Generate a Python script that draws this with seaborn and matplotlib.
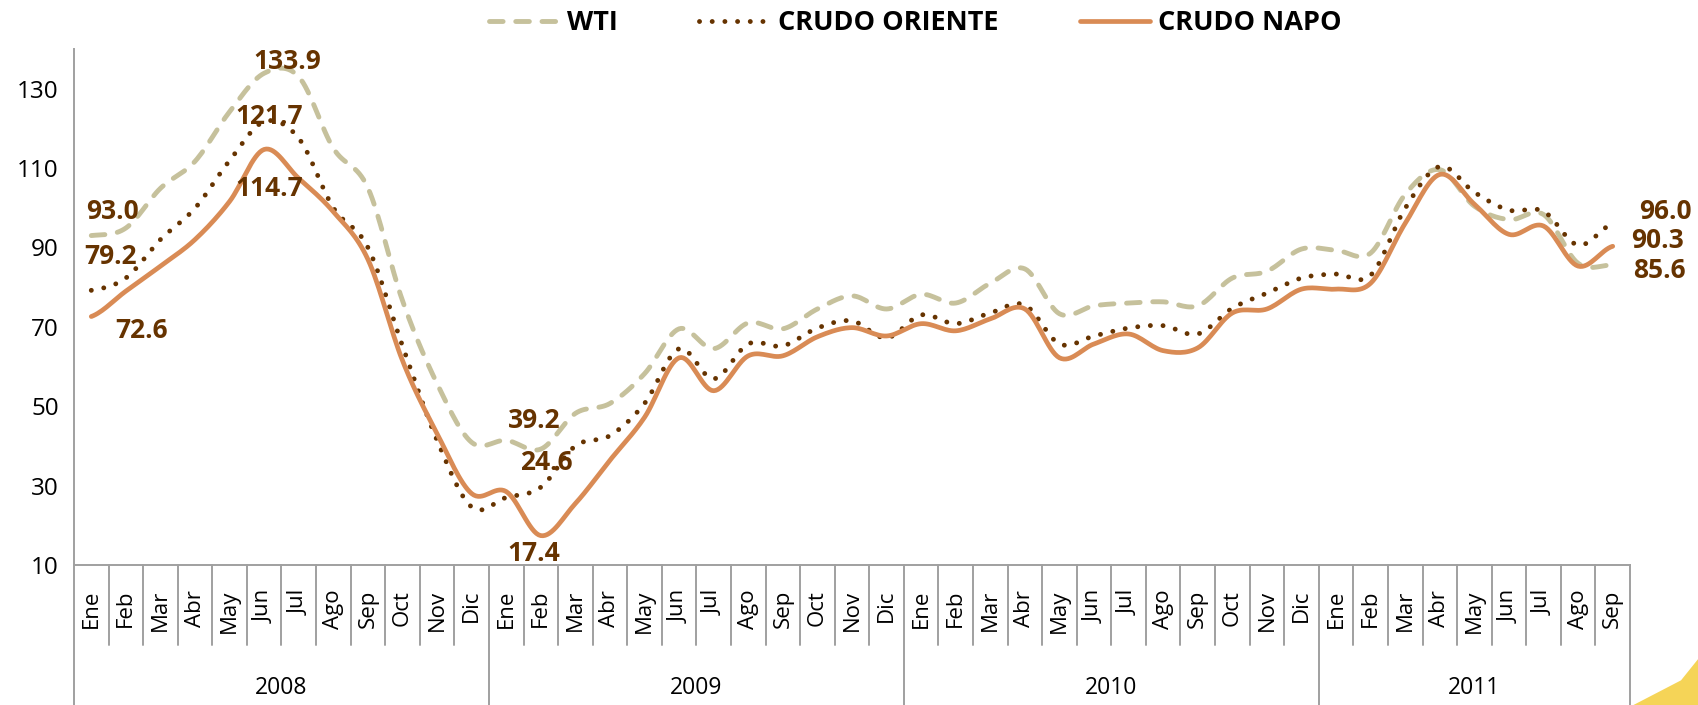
import numpy as np
import pandas as pd
import matplotlib
matplotlib.use("Agg")
import matplotlib.pyplot as plt
import matplotlib.transforms as mtransforms
from matplotlib.lines import Line2D
from matplotlib.patches import Polygon
import seaborn as sns

# data (USD per barrel, monthly)
years = ["2008", "2009", "2010", "2011"]
months = ["Ene", "Feb", "Mar", "Abr", "May", "Jun", "Jul", "Ago", "Sep", "Oct", "Nov", "Dic"]
month_labels = months * 3 + months[:9]

wti = [93.0, 94.9, 104.9, 111.7, 124.2, 133.9, 133.0, 115.0, 105.0, 76.6, 55.7, 40.9,
       41.4, 39.2, 48.2, 50.7, 58.2, 69.5, 64.5, 71.0, 69.5, 74.5, 77.8, 74.5,
       78.2, 76.0, 81.0, 84.6, 73.3, 75.3, 76.0, 76.3, 75.3, 82.3, 84.0, 89.6,
       89.3, 88.6, 103.4, 109.6, 100.4, 97.0, 98.3, 86.0, 85.6]
oriente = [79.2, 82.3, 92.0, 99.9, 111.9, 121.7, 117.5, 100.0, 90.0, 65.2, 41.4, 24.6,
           27.0, 29.6, 40.0, 42.6, 50.7, 64.5, 56.9, 65.7, 65.2, 69.7, 71.5, 67.2,
           73.0, 70.8, 73.5, 75.5, 65.7, 67.7, 69.7, 70.3, 68.2, 74.7, 78.5, 82.3,
           83.3, 83.0, 99.9, 110.4, 103.9, 99.4, 99.1, 90.6, 96.0]
napo = [72.6, 79.0, 85.3, 92.0, 101.6, 114.7, 107.4, 99.0, 87.0, 61.5, 43.1, 28.0,
        28.5, 17.4, 25.5, 36.4, 47.2, 62.2, 53.9, 62.7, 62.7, 67.5, 69.8, 67.7,
        70.8, 69.0, 72.0, 74.5, 62.2, 65.7, 68.2, 64.0, 64.7, 73.5, 74.5, 79.5,
        79.5, 81.0, 96.1, 108.4, 100.9, 93.3, 95.4, 85.3, 90.3]

series_names = ["WTI", "CRUDO ORIENTE", "CRUDO NAPO"]
series_values = [wti, oriente, napo]


def smooth(values, n=16):
    # Catmull-Rom curve through the points, like Excel's "smoothed line"
    y = np.asarray(values, float)
    p = np.concatenate([[y[0]], y, [y[-1]]])
    t = np.linspace(0, 1, n, endpoint=False)
    xs, ys = [], []
    for i in range(len(y) - 1):
        p0, p1, p2, p3 = p[i], p[i + 1], p[i + 2], p[i + 3]
        seg = 0.5 * (2 * p1 + (-p0 + p2) * t + (2 * p0 - 5 * p1 + 4 * p2 - p3) * t ** 2
                     + (-p0 + 3 * p1 - 3 * p2 + p3) * t ** 3)
        xs.extend(i + t)
        ys.extend(seg)
    xs.append(len(y) - 1)
    ys.append(y[-1])
    return np.array(xs), np.array(ys)


sns.set_style("white")
plt.rcParams["font.family"] = ["Open Sans", "DejaVu Sans"]
plt.rcParams["text.color"] = "black"
plt.rcParams["ytick.labelcolor"] = "black"

fig = plt.figure(figsize=(16.98, 7.05), dpi=100)
ax = fig.add_axes([74 / 1698, 1 - 565 / 705, (1630 - 74) / 1698, (565 - 49) / 705])

styles = {
    "WTI": dict(color="#C6C19C", linewidth=3.5, linestyle=(0, (2.8, 2.6)),
                dash_capstyle="round"),
    "CRUDO ORIENTE": dict(color="#663300", linewidth=3.5, linestyle=(0, (0.01, 2.6)),
                          dash_capstyle="round"),
    "CRUDO NAPO": dict(color="#D98B55", linewidth=3.4, linestyle="-",
                       solid_capstyle="round"),
}

handles = []
for name, vals in zip(series_names, series_values):
    xs, ys = smooth(vals)
    df = pd.DataFrame({"x": xs, "y": ys})
    sns.lineplot(data=df, x="x", y="y", ax=ax, sort=False, estimator=None, **styles[name])
    handles.append(Line2D([], [], **styles[name]))

ax.set_xlim(-0.5, len(month_labels) - 0.5)
ax.set_ylim(10, 140)
ax.set_yticks(range(10, 131, 20))
ax.tick_params(axis="y", direction="out", length=7, width=1.2, color="#A0A0A0",
               labelsize=17.5, labelcolor="black", pad=4)
ax.set_xticks([])
ax.set_xlabel("")
ax.set_ylabel("")
for s in ["top", "right"]:
    ax.spines[s].set_visible(False)
for s in ["left", "bottom"]:
    ax.spines[s].set_color("#A0A0A0")
    ax.spines[s].set_linewidth(1.4)

# category axis: months and years
trans = mtransforms.blended_transform_factory(ax.transData, ax.transAxes)
for i, m in enumerate(month_labels):
    ax.text(i, -0.048, m, transform=trans, rotation=90, ha="center", va="top",
            fontsize=16, color="black")
for k in range(len(month_labels) + 1):
    is_year = k % 12 == 0 or k == len(month_labels)
    ax.add_line(Line2D([k - 0.5, k - 0.5], [0, -0.28 if is_year else -0.155],
                       transform=trans, clip_on=False, color="#A0A0A0", linewidth=1.4))
for j, yr in enumerate(years):
    start = j * 12
    end = min(start + 12, len(month_labels))
    ax.text((start + end - 1) / 2, -0.238, yr, transform=trans, ha="center",
            va="center", fontsize=16.5, color="black")

# data labels (series index, month index, offset in px)
label_color = "#663300"
labels = [
    (0, 0, 21, -24), (1, 0, 19, -34), (2, 0, 50, 14),
    (0, 5, 23, -12), (1, 5, 5, -5), (2, 5, 5, 39),
    (0, 13, -7, -29), (1, 11, 75, -45), (2, 13, -7, 18),
    (1, 44, 53, -12), (2, 44, 45, -6), (0, 44, 47, 6),
]
for s, i, dx, dy in labels:
    v = series_values[s][i]
    ax.annotate(f"{v:.1f}", xy=(i, v), xytext=(dx * 0.72, -dy * 0.72),
                textcoords="offset points", ha="center", va="center",
                fontsize=19, fontweight="bold", color=label_color,
                annotation_clip=False)

leg = ax.legend(handles, series_names, loc="center", bbox_to_anchor=(0.539, 0.967),
                bbox_transform=fig.transFigure, ncol=3, frameon=False,
                handlelength=2.6, handletextpad=0.3, columnspacing=3.0,
                prop={"size": 19.5, "weight": "bold"})
for txt in leg.get_texts():
    txt.set_color("black")

# yellow corner decoration
fig.patches.append(Polygon([(0.962, 0.0), (1.0, 0.0), (1.0, 0.065), (0.99, 0.035)],
                           closed=True, transform=fig.transFigure,
                           facecolor="#F4CD3A", edgecolor="none", alpha=0.85))

fig.savefig("out.png", dpi=100)
